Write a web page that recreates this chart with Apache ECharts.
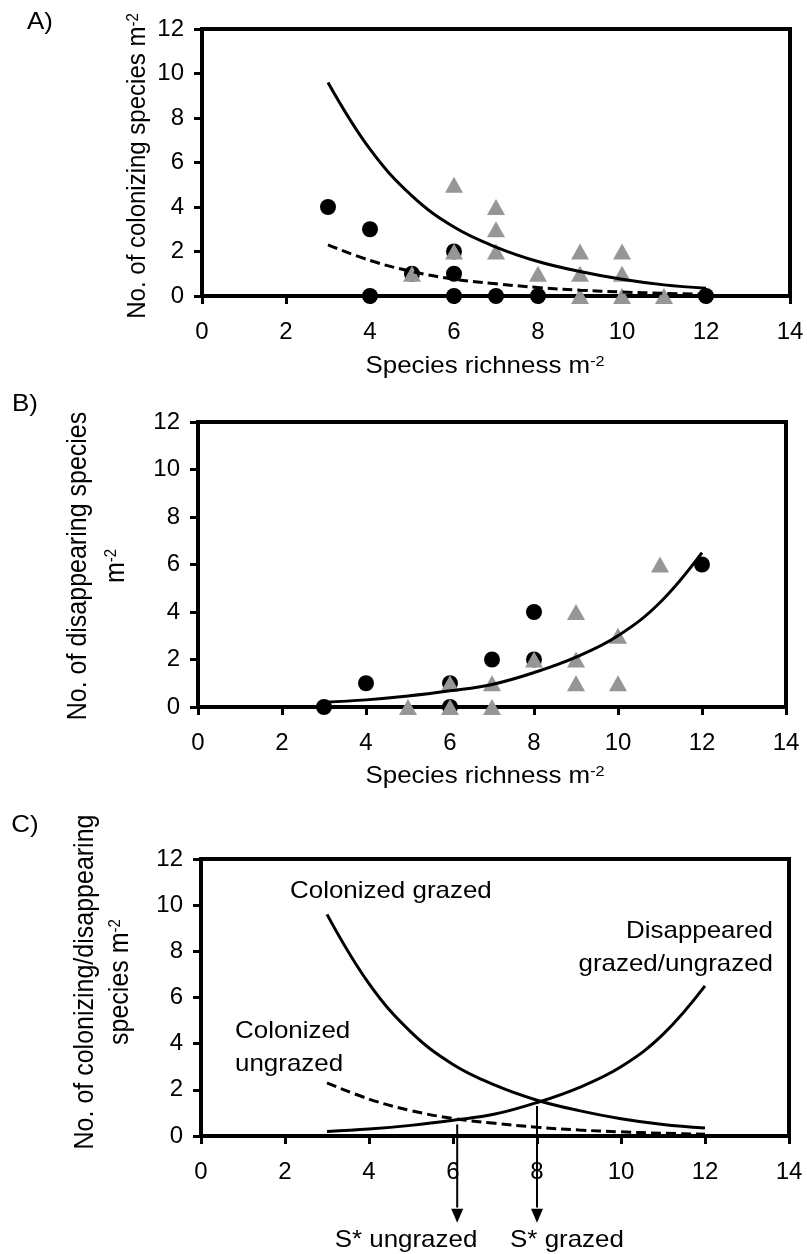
<!DOCTYPE html>
<html>
<head>
<meta charset="utf-8">
<script src="https://cdn.jsdelivr.net/npm/echarts@6/dist/echarts.min.js"></script>
<style>
  html, body { margin: 0; padding: 0; background: #fff; }
  #chart { width: 807px; height: 1254px; }
</style>
</head>
<body>
<div id="chart"></div>
<script>
  // species richness values where the fitted curves are read
  var curveX = [3, 4, 5, 6, 7, 8, 9, 10, 11, 12];
  var colonizedGrazed = [9.6, 6.6, 4.5, 3.1, 2.2, 1.55, 1.1, 0.75, 0.5, 0.35];
  var colonizedUngrazed = [2.3, 1.6, 1.1, 0.76, 0.55, 0.38, 0.26, 0.18, 0.12, 0.08];
  var disappeared = [0.2, 0.3, 0.46, 0.68, 0.95, 1.45, 2.1, 3.0, 4.4, 6.5];

  // A) colonizing species, [richness, no. of species]
  var colonUngrazedPts = [[3, 4], [4, 3], [4, 0], [5, 1], [6, 2], [6, 1], [6, 0], [7, 0], [8, 0], [12, 0]];
  var colonGrazedPts = [[5, 1], [6, 5], [6, 2], [7, 4], [7, 3], [7, 2], [8, 1], [9, 2], [9, 1], [9, 0],
    [10, 2], [10, 1], [10, 0], [11, 0]];

  // B) disappearing species
  var disUngrazedPts = [[3, 0], [4, 1], [6, 1], [6, 0], [7, 2], [8, 4], [8, 2], [12, 6]];
  var disGrazedPts = [[5, 0], [6, 1], [6, 0], [7, 1], [7, 0], [8, 2], [9, 4], [9, 2], [9, 1],
    [10, 3], [10, 1], [11, 6]];

  // C) S* arrows: x, start of the arrow, end of the shaft, arrow head
  var sStarX = [6.1, 8];
  var sStarTop = [0.5, 1.3];
  var sStarShaftEnd = -3.1;
  var sStarHead = -3.45;

  var FONT = 'Liberation Sans, Arial, sans-serif';
  var GREY = '#969696';
  var WIDE = 1.08; // the figure's lettering is a little wider than Arial

  function pairs(xs, ys) {
    return xs.map(function (x, i) { return [x, ys[i]]; });
  }

  function xAxisOf(i) {
    return {
      gridIndex: i, type: 'value', min: 0, max: 14, interval: 2,
      axisLine: { show: true, onZero: false, lineStyle: { color: '#000', width: 4 } },
      axisTick: { show: true, length: 8, lineStyle: { color: '#000', width: 3 } },
      axisLabel: { fontSize: 24, color: '#000', fontFamily: FONT, margin: 24 },
      splitLine: { show: false }
    };
  }

  function yAxisOf(i) {
    return {
      gridIndex: i, type: 'value', min: 0, max: 12, interval: 2,
      axisLine: { show: true, onZero: false, lineStyle: { color: '#000', width: 4 } },
      axisTick: { show: true, length: 8, lineStyle: { color: '#000', width: 3 } },
      axisLabel: { fontSize: 24, color: '#000', fontFamily: FONT, margin: 18 },
      splitLine: { show: false }
    };
  }

  function gridOf(left, top, height) {
    return { left: left, top: top, width: 588, height: height, show: true,
      borderColor: '#000', borderWidth: 4 };
  }

  function dots(i, data) {
    return { type: 'scatter', xAxisIndex: i, yAxisIndex: i, data: data,
      symbol: 'circle', symbolSize: 16, itemStyle: { color: '#000', opacity: 1 }, z: 3 };
  }

  function triangles(i, data) {
    return { type: 'scatter', xAxisIndex: i, yAxisIndex: i, data: data,
      symbol: 'triangle', symbolSize: [18, 16], itemStyle: { color: GREY, opacity: 1 }, z: 4 };
  }

  function curve(i, ys, dashed) {
    return { type: 'line', xAxisIndex: i, yAxisIndex: i, data: pairs(curveX, ys),
      smooth: 0.4, showSymbol: false, symbol: 'none', z: 5,
      lineStyle: { color: '#000', width: 3, type: dashed ? [10, 5] : 'solid' } };
  }

  var sup = { fontSize: 15, fontFamily: FONT, verticalAlign: 'top', fill: '#000' };

  function label(text, x, y, opts) {
    opts = opts || {};
    var rot = !!opts.rotate;
    return {
      type: 'text', x: x, y: y, rotation: rot ? Math.PI / 2 : 0,
      scaleX: rot ? 1 : WIDE, scaleY: rot ? WIDE : 1,
      style: {
        text: text, fontSize: opts.size || 24, fontFamily: FONT, fill: '#000',
        align: opts.align || 'center', verticalAlign: 'middle',
        rich: { sup: sup }
      }
    };
  }

  var series = [
    dots(0, colonUngrazedPts), triangles(0, colonGrazedPts),
    curve(0, colonizedGrazed, false), curve(0, colonizedUngrazed, true),
    dots(1, disUngrazedPts), triangles(1, disGrazedPts),
    curve(1, disappeared, false),
    curve(2, colonizedGrazed, false), curve(2, colonizedUngrazed, true), curve(2, disappeared, false)
  ];

  sStarX.forEach(function (x, k) {
    series.push({ type: 'line', xAxisIndex: 2, yAxisIndex: 2, clip: false, showSymbol: false,
      symbol: 'none', data: [[x, sStarTop[k]], [x, sStarShaftEnd]],
      lineStyle: { color: '#000', width: 2 }, z: 6 });
  });
  series.push({ type: 'scatter', xAxisIndex: 2, yAxisIndex: 2, clip: false,
    data: sStarX.map(function (x) { return [x, sStarHead]; }),
    symbol: 'triangle', symbolRotate: 180, symbolSize: [12, 14],
    itemStyle: { color: '#000', opacity: 1 }, z: 6 });

  var chart = echarts.init(document.getElementById('chart'));
  chart.setOption({
    animation: false,
    backgroundColor: '#fff',
    grid: [gridOf(202, 29, 267), gridOf(198, 422, 285), gridOf(201, 859, 277)],
    xAxis: [xAxisOf(0), xAxisOf(1), xAxisOf(2)],
    yAxis: [yAxisOf(0), yAxisOf(1), yAxisOf(2)],
    series: series,
    graphic: [
      label('A)', 40, 22),
      label('B)', 25, 404),
      label('C)', 25, 825),
      label('No. of colonizing species m{sup|-2}', 138, 166, { rotate: true }),
      label('Species richness m{sup|-2}', 485, 366),
      label('No. of disappearing species', 79, 566, { rotate: true, size: 25 }),
      label('m{sup|-2}', 117, 566, { rotate: true, size: 25 }),
      label('Species richness m{sup|-2}', 485, 776),
      label('No. of colonizing/disappearing', 86, 982, { rotate: true, size: 25 }),
      label('species m{sup|-2}', 121, 982, { rotate: true, size: 25 }),
      label('Colonized grazed', 290, 891, { align: 'left' }),
      label('Disappeared', 773, 931, { align: 'right' }),
      label('grazed/ungrazed', 773, 964, { align: 'right' }),
      label('Colonized', 235, 1031, { align: 'left' }),
      label('ungrazed', 235, 1064, { align: 'left' }),
      label('S* ungrazed', 406, 1240),
      label('S* grazed', 567, 1240)
    ]
  });
</script>
</body>
</html>
